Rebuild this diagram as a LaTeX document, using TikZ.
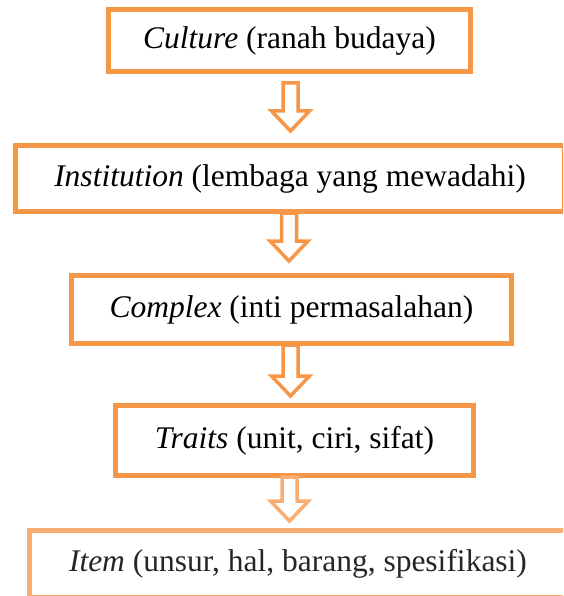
\documentclass[tikz,border=0pt]{standalone}
\usepackage{fontspec}
\setmainfont{Liberation Serif}
\usetikzlibrary{calc}
\definecolor{org}{HTML}{F79646}
\definecolor{orglight}{HTML}{F8AD72}
\tikzset{
  box/.style={draw=org, line width=5pt, fill=white, inner sep=0pt, font=\fontsize{31.5}{36}\selectfont},
  arr/.style={draw=org, line width=3.5pt, fill=white, line join=miter},
}
\newcommand\blockarrow[3]{%
  \draw[arr,#3] let \p1=(#1), \p2=(#2) in
    (\x1-7.5pt,\y1) -- (\x1+7.5pt,\y1) -- (\x1+7.5pt,\y2+20pt) -- (\x1+19pt,\y2+20pt)
    -- (\x1,\y2) -- (\x1-19pt,\y2+20pt) -- (\x1-7.5pt,\y2+20pt) -- cycle;}
\begin{document}
\begin{tikzpicture}[x=1pt,y=-1pt]
\useasboundingbox (0,0) rectangle (563,596);
\begin{scope}
\clip (0,0) rectangle (563,596);
\node[box, minimum width=362pt, minimum height=62pt] (c1) at (289.5,40.5) {\textit{Culture} (ranah budaya)};
\node[box, minimum width=549pt, minimum height=66pt] (c2) at (290,178.5) {\textit{Institution} (lembaga yang mewadahi)};
\node[box, minimum width=440pt, minimum height=68pt] (c3) at (291.5,309.5) {\textit{Complex} (inti permasalahan)};
\node[box, minimum width=358pt, minimum height=70pt] (c4) at (294.5,440.5) {\textit{Traits} (unit, ciri, sifat)};
\node[box, draw=orglight, text=black!85, minimum width=537pt, minimum height=67pt] (c5) at (298,564) {\textit{Item} (unsur, hal, barang, spesifikasi)};

\coordinate (a1s) at ($(c1.south)+(1,9)$);
\coordinate (a1e) at ($(c2.north)+(0,-12)$);
\coordinate (a2s) at ($(c2.south)+(-1,-1)$);
\coordinate (a2e) at ($(c3.north)+(-2,-12)$);
\coordinate (a3s) at ($(c3.south)+(-1,-1)$);
\coordinate (a3e) at ($(c4.north)+(-5,-7)$);
\coordinate (a4s) at ($(c4.south)+(-5,-1)$);
\coordinate (a4e) at ($(c5.north)+(-9,-7)$);
\blockarrow{a1s}{a1e}{}
\blockarrow{a2s}{a2e}{}
\blockarrow{a3s}{a3e}{}
\blockarrow{a4s}{a4e}{draw=orglight}
\end{scope}
\end{tikzpicture}
\end{document}
